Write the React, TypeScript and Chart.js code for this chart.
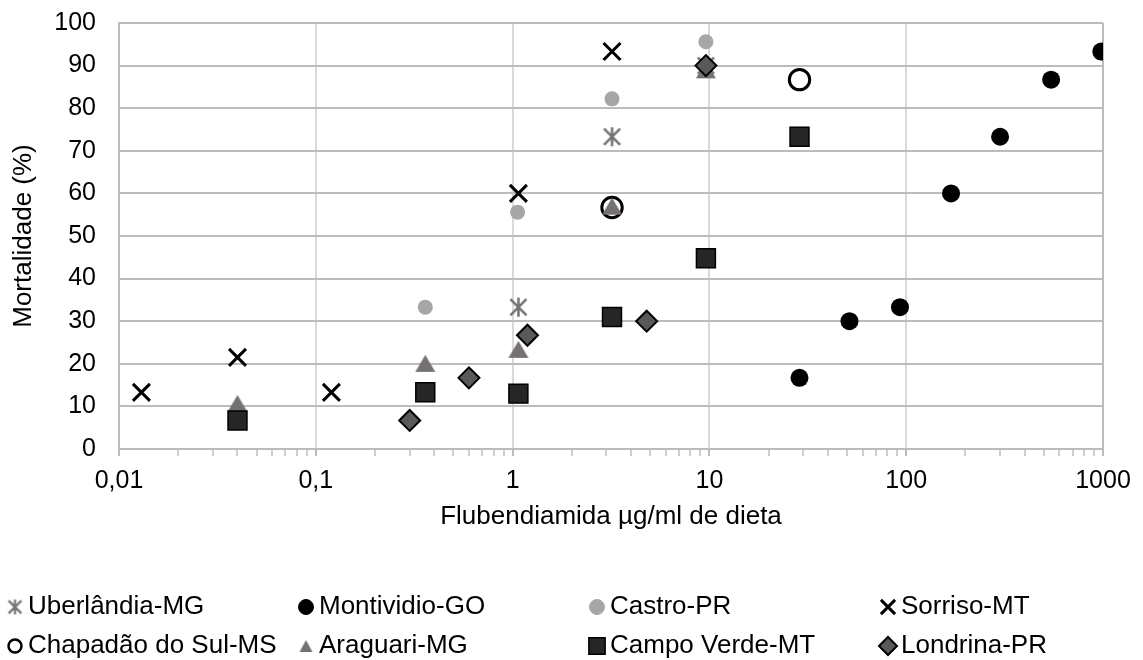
import React, { useEffect, useRef } from 'react';
import { Chart, registerables } from 'chart.js';
import { drawPoint } from 'chart.js/helpers';

Chart.register(...registerables);

const FONT = "'Liberation Sans', Arial, sans-serif";

// ---- Data ----
const seriesNames = [
  'Uberlândia-MG',
  'Montividio-GO',
  'Castro-PR',
  'Sorriso-MT',
  'Chapadão do Sul-MS',
  'Araguari-MG',
  'Campo Verde-MT',
  'Londrina-PR',
];

const uberlandiaX = [1.07, 3.2, 9.6];
const uberlandiaY = [33.3, 73.3, 90];

const montividioX = [28.7, 51.5, 93, 169, 300, 545, 980];
const montividioY = [16.7, 30, 33.3, 60, 73.3, 86.7, 93.3];

const castroX = [0.36, 1.06, 3.2, 9.6];
const castroY = [33.3, 55.6, 82.2, 95.6];

const sorrisoX = [0.013, 0.04, 0.12, 1.07, 3.2];
const sorrisoY = [13.3, 21.5, 13.3, 60, 93.3];

const chapadaoX = [3.2, 28.7];
const chapadaoY = [56.7, 86.7];

const araguariX = [0.04, 0.36, 1.07, 3.2, 9.6];
const araguariY = [10.7, 20.1, 23.4, 57, 89];

const campoVerdeX = [0.04, 0.36, 1.07, 3.2, 9.6, 28.7];
const campoVerdeY = [6.7, 13.3, 13, 31, 44.8, 73.3];

const londrinaX = [0.3, 0.6, 1.19, 4.8, 9.6];
const londrinaY = [6.7, 16.7, 26.7, 30, 90];

const xDecades = [0.01, 0.1, 1, 10, 100, 1000];
const xTickLabels = ['0,01', '0,1', '1', '10', '100', '1000'];
const yTicks = [0, 10, 20, 30, 40, 50, 60, 70, 80, 90, 100];

const xTitle = 'Flubendiamida µg/ml de dieta';
const yTitle = 'Mortalidade (%)';

const seriesX = [uberlandiaX, montividioX, castroX, sorrisoX, chapadaoX, araguariX, campoVerdeX, londrinaX];
const seriesY = [uberlandiaY, montividioY, castroY, sorrisoY, chapadaoY, araguariY, campoVerdeY, londrinaY];

// ---- Marker images ----
function makeAsterisk(size: number, color: string, lw: number) {
  const c = document.createElement('canvas');
  c.width = size;
  c.height = size;
  const g = c.getContext('2d')!;
  g.strokeStyle = color;
  g.lineWidth = lw;
  const m = size / 2;
  const a = size / 2 - 1;
  const d = a * 0.85;
  g.beginPath();
  g.moveTo(m, m - a);
  g.lineTo(m, m + a);
  g.moveTo(m - d, m - d);
  g.lineTo(m + d, m + d);
  g.moveTo(m + d, m - d);
  g.lineTo(m - d, m + d);
  g.stroke();
  return c;
}

function makeTriangle(w: number, h: number, color: string) {
  const c = document.createElement('canvas');
  c.width = Math.ceil(w) + 2;
  c.height = Math.ceil(h) + 2;
  const g = c.getContext('2d')!;
  g.fillStyle = color;
  const cx = c.width / 2;
  const top = (c.height - h) / 2;
  g.beginPath();
  g.moveTo(cx, top);
  g.lineTo(cx + w / 2, top + h);
  g.lineTo(cx - w / 2, top + h);
  g.closePath();
  g.fill();
  return c;
}

type MarkerStyle = {
  pointStyle: any;
  legendStyle: any;
  radius: number;
  legendRadius: number;
  bg: string;
  border: string;
  borderWidth: number;
};

function buildStyles(): MarkerStyle[] {
  return [
    { pointStyle: makeAsterisk(21, '#737373', 2.5), legendStyle: makeAsterisk(17, '#737373', 2.2), radius: 10, legendRadius: 8, bg: '#737373', border: '#737373', borderWidth: 0 },
    { pointStyle: 'circle', legendStyle: 'circle', radius: 9, legendRadius: 7.5, bg: '#000000', border: '#000000', borderWidth: 0 },
    { pointStyle: 'circle', legendStyle: 'circle', radius: 7.5, legendRadius: 7.5, bg: '#a6a6a6', border: '#a6a6a6', borderWidth: 0 },
    { pointStyle: 'crossRot', legendStyle: 'crossRot', radius: 12, legendRadius: 10, bg: '#000000', border: '#000000', borderWidth: 3 },
    { pointStyle: 'circle', legendStyle: 'circle', radius: 10.2, legendRadius: 6.5, bg: '#ffffff', border: '#000000', borderWidth: 3 },
    { pointStyle: makeTriangle(20, 17, '#767171'), legendStyle: makeTriangle(13, 12, '#767171'), radius: 10, legendRadius: 7, bg: '#767171', border: '#767171', borderWidth: 0 },
    { pointStyle: 'rect', legendStyle: 'rect', radius: 13.4, legendRadius: 11.5, bg: '#262626', border: '#000000', borderWidth: 1.5 },
    { pointStyle: 'rectRot', legendStyle: 'rectRot', radius: 10.5, legendRadius: 9, bg: '#595959', border: '#000000', borderWidth: 2 },
  ];
}

// legend layout
const legendColX = [15, 306, 597, 888];
const legendRowY = [607, 646];

function isDecade(v: number) {
  const l = Math.log10(v);
  return Math.abs(l - Math.round(l)) < 1e-6;
}

export default function App() {
  const canvasRef = useRef<HTMLCanvasElement | null>(null);

  useEffect(() => {
    const canvas = canvasRef.current;
    if (!canvas) return;
    const styles = buildStyles();
    const n = seriesNames.length;

    const datasets = seriesNames.map((name, i) => ({
      label: name,
      data: seriesX[i].map((x, k) => ({ x, y: seriesY[i][k] })),
      pointStyle: styles[i].pointStyle,
      pointRadius: styles[i].radius,
      pointHoverRadius: styles[i].radius,
      backgroundColor: styles[i].bg,
      borderColor: styles[i].border,
      borderWidth: styles[i].borderWidth,
      pointBorderWidth: styles[i].borderWidth,
      showLine: false,
      order: n - i,
    }));

    const legendPlugin = {
      id: 'customLegend',
      afterDraw(chart: any) {
        const ctx = chart.ctx;
        ctx.save();
        ctx.font = `26px ${FONT}`;
        ctx.textBaseline = 'middle';
        ctx.textAlign = 'left';
        seriesNames.forEach((name, i) => {
          const col = i % 4;
          const row = Math.floor(i / 4);
          const x = legendColX[col];
          const y = legendRowY[row];
          const st = styles[i];
          if (typeof st.legendStyle === 'string') {
            ctx.fillStyle = st.bg;
            ctx.strokeStyle = st.border;
            ctx.lineWidth = st.pointStyle === 'circle' && st.borderWidth > 0 ? 2.5 : st.borderWidth;
            drawPoint(ctx, { pointStyle: st.legendStyle, radius: st.legendRadius, borderWidth: ctx.lineWidth, rotation: 0 }, x, y);
          } else {
            const img = st.legendStyle as HTMLCanvasElement;
            ctx.drawImage(img, x - img.width / 2, y - img.height / 2);
          }
          ctx.fillStyle = '#000000';
          ctx.fillText(name, x + 13, y);
        });
        ctx.restore();
      },
    };

    const chart = new Chart(canvas, {
      type: 'scatter',
      data: { datasets },
      plugins: [legendPlugin],
      options: {
        responsive: false,
        animation: false,
        events: [],
        layout: { padding: { top: 23, right: 40, bottom: 127.4, left: 0 } },
        plugins: {
          legend: { display: false },
          tooltip: { enabled: false },
        },
        scales: {
          x: {
            type: 'logarithmic',
            position: 'bottom',
            min: xDecades[0],
            max: xDecades[xDecades.length - 1],
            afterBuildTicks: (scale: any) => {
              scale.ticks = scale.ticks.filter((t: any) => {
                const m = t.value / Math.pow(10, Math.floor(Math.log10(t.value) + 1e-9));
                return Math.abs(m - Math.round(m)) < 1e-6;
              });
            },
            afterFit: (scale: any) => {
              scale.height = 83.6;
              scale.paddingLeft = 0;
              scale.paddingRight = 0;
            },
            border: { display: true, color: '#bcbcbc', width: 2 },
            grid: {
              color: (c: any) => {
                const v = c.tick ? c.tick.value : 0;
                if (!isDecade(v)) return 'rgba(0,0,0,0)';
                if (Math.abs(v - 1000) < 1e-6) return '#bcbcbc';
                return '#d9d9d9';
              },
              lineWidth: 2,
              tickColor: '#bcbcbc',
              tickLength: 7,
              tickWidth: (c: any) => (c.tick && isDecade(c.tick.value) ? 2 : 1.5),
            },
            ticks: {
              autoSkip: false,
              maxRotation: 0,
              minRotation: 0,
              padding: 10,
              color: '#000000',
              font: { family: FONT, size: 25 },
              callback: (value: any) => {
                const v = Number(value);
                const idx = xDecades.findIndex((d) => Math.abs(Math.log10(d) - Math.log10(v)) < 1e-6);
                return idx >= 0 ? xTickLabels[idx] : '';
              },
            },
            title: {
              display: true,
              text: xTitle,
              color: '#000000',
              font: { family: FONT, size: 26 },
              padding: { top: 0, bottom: 0 },
            },
          },
          y: {
            min: yTicks[0],
            max: yTicks[yTicks.length - 1],
            afterFit: (scale: any) => {
              scale.width = 119;
              scale.paddingTop = 0;
              scale.paddingBottom = 0;
            },
            border: { display: true, color: '#bcbcbc', width: 2 },
            grid: { color: '#bcbcbc', lineWidth: 2, drawTicks: false },
            ticks: {
              stepSize: 10,
              padding: 23,
              color: '#000000',
              font: { family: FONT, size: 25 },
              callback: (value: any) => {
                const idx = yTicks.indexOf(Number(value));
                return idx >= 0 ? String(yTicks[idx]) : '';
              },
            },
            title: {
              display: true,
              text: yTitle,
              color: '#000000',
              font: { family: FONT, size: 26 },
              padding: { top: 8, bottom: 0 },
            },
          },
        },
      } as any,
    });

    return () => {
      chart.destroy();
    };
  }, []);

  return (
    <div style={{ position: 'absolute', left: 0, top: 0, width: 1143, height: 660, background: '#ffffff' }}>
      <canvas ref={canvasRef} width={1143} height={660} style={{ display: 'block', width: 1143, height: 660 }} />
    </div>
  );
}
